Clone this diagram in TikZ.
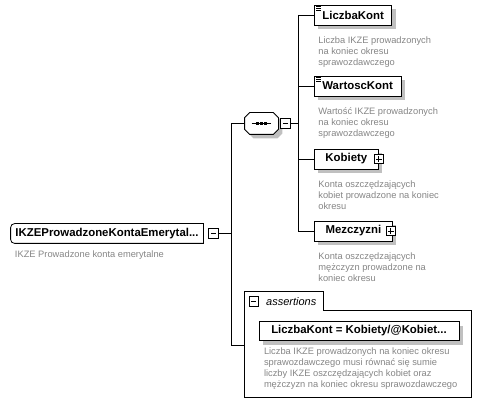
\documentclass[tikz,border=0pt]{standalone}
\usepackage{fontspec}
\setmainfont{Liberation Sans}
\usetikzlibrary{positioning,shadows}
\definecolor{DescGray}{HTML}{858585}
\definecolor{ShadowGray}{HTML}{C0C0C0}

\begin{document}
\begin{tikzpicture}[x=1pt,y=1pt,line width=0.8pt,
    every node/.style={font=\fontsize{11.4}{13}\selectfont},
    elembox/.style={draw,fill=white,minimum height=20pt,inner xsep=8pt,inner ysep=0pt,font=\fontsize{11.4}{13}\selectfont\bfseries},
    shadowed/.style={drop shadow={shadow xshift=4pt,shadow yshift=-4pt,fill=ShadowGray,opacity=1}},
    descr/.style={inner sep=0pt,align=left,text=DescGray,font=\fontsize{9.3}{11}\selectfont},
    pmbox/.style={draw,fill=white,minimum size=9.5pt,inner sep=0pt,line width=0.7pt},
    minus/.style={pmbox,path picture={\draw ([xshift=2pt]path picture bounding box.west) -- ([xshift=-2pt]path picture bounding box.east);}},
    plus/.style={pmbox,path picture={\draw ([xshift=2pt]path picture bounding box.west) -- ([xshift=-2pt]path picture bounding box.east);
      \draw ([yshift=2pt]path picture bounding box.south) -- ([yshift=-2pt]path picture bounding box.north);}}]
  \useasboundingbox (0,0) rectangle (483,-404);

  % root element
  \node[minimum width=192pt,minimum height=19pt,inner sep=0pt,font=\fontsize{11.4}{13}\selectfont\bfseries] (root) at (107,-233.5) {IKZEProwadzoneKontaEmerytal...};
  \draw (root.south) [rounded corners=4pt] -- (root.south west) -- (root.north west) -- (root.north) [sharp corners] -- (root.north east) -- (root.south east) -- cycle;
  \node[minus,right=5pt of root.east] (rootm) {};
  \node[descr,below right=7pt and 4pt of root.south west] (rootdesc) {IKZE Prowadzone konta emerytalne};

  % sequence
  \node[minimum width=33pt,minimum height=21pt,inner sep=0pt] (seq) at (261.5,-123.5) {};
  \draw[fill=white,shadowed] ([xshift=5pt]seq.north west) -- ([xshift=-5pt]seq.north east) -- ([yshift=-5pt]seq.north east)
    -- ([yshift=5pt]seq.south east) -- ([xshift=-5pt]seq.south east) -- ([xshift=5pt]seq.south west)
    -- ([yshift=5pt]seq.south west) -- ([yshift=-5pt]seq.north west) -- cycle;
  \draw ([xshift=7pt]seq.west) -- ([xshift=-7pt]seq.east);
  \foreach \d in {-4,0,4}
    \fill ([xshift=\d pt]seq.center) ++(-1.2,-1.2) rectangle ++(2.4,2.4);
  \node[minus,right=2pt of seq.east] (seqm) {};

  \coordinate (tr1) at (231,0);
  \coordinate (tr2) at (298,0);

  % children
  \node[elembox,shadowed,anchor=west] (lk) at (314,-15) {LiczbaKont};
  \node[elembox,shadowed,anchor=west] (wk) at (314,-86) {WartoscKont};
  \node[elembox,shadowed,anchor=west,minimum width=64pt] (kb) at (314,-159) {Kobiety};
  \node[elembox,shadowed,anchor=west,minimum width=78pt] (mz) at (314,-231) {Mezczyzni};
  \node[plus] (kbp) at (kb.east) {};
  \node[plus] (mzp) at ([xshift=-2pt]mz.east) {};
  \foreach \n in {lk,wk}
    \foreach \d in {1.8,3.9,6}
      \draw[line width=0.5pt] ([xshift=2pt,yshift=-\d pt]\n.north west) -- ++(5,0);

  \node[descr,below right=10.5pt and 4pt of lk.south west] (lkdesc) {Liczba IKZE prowadzonych\\na koniec okresu\\sprawozdawczego};
  \node[descr,below right=10.5pt and 4pt of wk.south west] (wkdesc) {Wartość IKZE prowadzonych\\na koniec okresu\\sprawozdawczego};
  \node[descr,below right=10.5pt and 4pt of kb.south west] (kbdesc) {Konta oszczędzających\\kobiet prowadzone na koniec\\okresu};
  \node[descr,below right=10.5pt and 4pt of mz.south west] (mzdesc) {Konta oszczędzających\\mężczyzn prowadzone na\\koniec okresu};

  % assertions
  \node[minimum width=226pt,minimum height=86pt,inner sep=0pt] (asrt) at (358,-354) {};
  \node[minimum width=78pt,minimum height=18pt,inner sep=0pt,anchor=south west] (asrttab) at (asrt.north west) {};
  \draw (asrt.south west) -- (asrttab.north west) -- (asrttab.north east) -- (asrttab.south east) -- (asrt.north east) -- (asrt.south east) -- cycle;
  \node[minus,right=4pt of asrttab.west] (asrtm) {};
  \node[right=7pt of asrtm.east,inner sep=0pt,font=\fontsize{11}{13}\selectfont\itshape] (asrtlbl) {assertions};
  \node[elembox,shadowed,minimum width=200pt,minimum height=19pt] (asrtexp) at (359,-331) {LiczbaKont = Kobiety/@Kobiet...};
  \node[descr,below right=6pt and 5pt of asrtexp.south west] (asrtdesc) {Liczba IKZE prowadzonych na koniec okresu\\sprawozdawczego musi równać się sumie\\liczby IKZE oszczędzających kobiet oraz\\mężczyzn na koniec okresu sprawozdawczego};
  \coordinate (asrtin) at ([yshift=9pt]asrt.west);

  % connectors
  \draw (rootm.east) -- (rootm.east -| tr1);
  \draw (seq.west -| tr1) -- (seq.west);
  \draw (seq.west -| tr1) -- (asrtin -| tr1) -- (asrtin);
  \draw (seqm.east) -- (seqm.east -| tr2);
  \draw (lk.west -| tr2) -- (mz.west -| tr2);
  \foreach \n in {lk,wk,kb,mz}
    \draw (\n.west -| tr2) -- (\n.west);
\end{tikzpicture}
\end{document}
